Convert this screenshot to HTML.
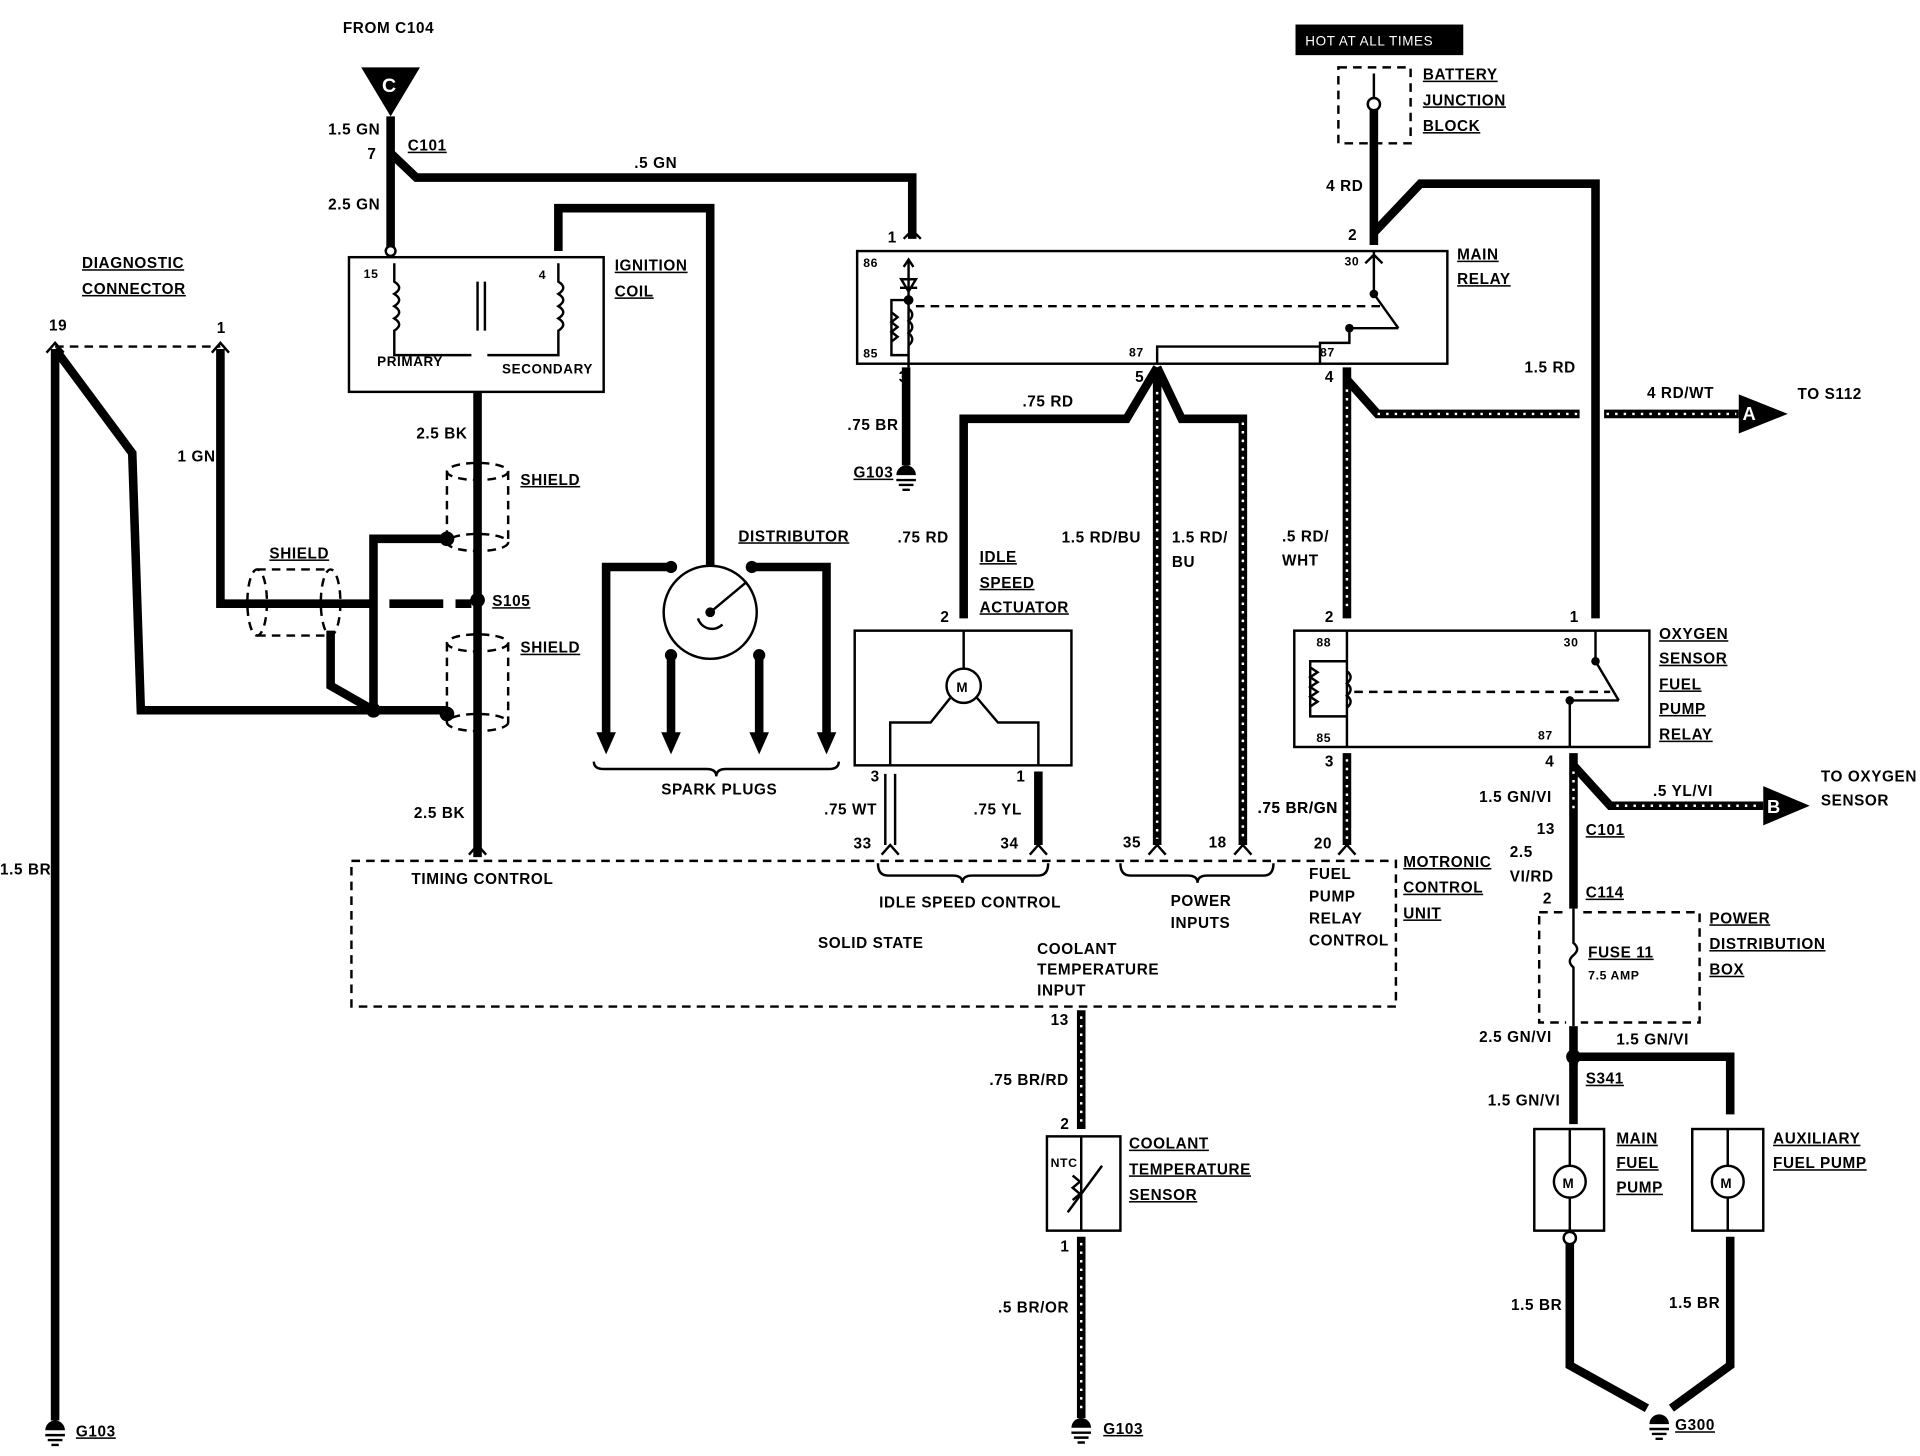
<!DOCTYPE html>
<html><head><meta charset="utf-8"><style>
html,body{margin:0;padding:0;background:#fff;}
svg{display:block;}
text{font-family:"Liberation Sans",sans-serif;font-weight:bold;font-size:12.5px;fill:#000;letter-spacing:0.5px;}
.k{stroke:#000;stroke-width:7;fill:none;stroke-linejoin:miter;}
.t{stroke:#000;stroke-width:2;fill:none;}
.d{stroke:#000;stroke-width:2;fill:none;stroke-dasharray:7,5;}
.h{stroke:#fff;stroke-width:2;fill:none;stroke-dasharray:2,5;}
.u{text-decoration:underline;}
</style></head><body>
<svg width="1920" height="1456" viewBox="0 0 1568 1189" xmlns="http://www.w3.org/2000/svg">
<rect width="1568" height="1189" fill="#fff"/>

<!-- top left feed -->
<text x="280" y="27">FROM C104</text>
<polygon points="295,55 343,55 319,95" fill="#000"/>
<text x="312" y="75" style="fill:#fff;font-size:16px">C</text>
<path class="k" d="M319,95 V205"/>
<path class="k" d="M319,125 L340,145 H745 V195"/>
<text x="268" y="110">1.5 GN</text><text x="300" y="130">7</text>
<text x="333" y="123" class="u">C101</text><text x="268" y="171">2.5 GN</text>
<text x="518" y="137">.5 GN</text>

<!-- ignition coil -->
<rect x="285" y="210" width="208" height="110" class="t"/>
<circle cx="319" cy="205" r="4" fill="#fff" stroke="#000" stroke-width="2"/>
<text x="297" y="227" style="font-size:10px">15</text><text x="440" y="228" style="font-size:10px">4</text>
<path class="t" d="M322,215 V230 q8,5 0,10 q8,5 0,10 q8,5 0,10 q8,5 0,10 V290 H385 M456,215 V230 q8,5 0,10 q8,5 0,10 q8,5 0,10 q8,5 0,10 V290 H398 M390,230 V270 M396,230 V270"/>
<text x="308" y="299" style="font-size:11px">PRIMARY</text><text x="410" y="305" style="font-size:11px">SECONDARY</text>
<text x="502" y="221" class="u">IGNITION</text><text x="502" y="242" class="u">COIL</text>
<path class="k" d="M456,205 V170 H580 V462"/>
<path class="k" d="M390,320 V700"/>
<text x="340" y="358">2.5 BK</text><text x="338" y="668">2.5 BK</text>
<!-- shields -->
<ellipse cx="390" cy="385" rx="25" ry="7" class="d"/><ellipse cx="390" cy="443" rx="25" ry="7" class="d"/>
<path class="d" d="M365,385 V443 M415,385 V443"/>
<ellipse cx="390" cy="525" rx="25" ry="7" class="d"/><ellipse cx="390" cy="590" rx="25" ry="7" class="d"/>
<path class="d" d="M365,525 V590 M415,525 V590"/>
<text x="425" y="396" class="u">SHIELD</text><text x="425" y="533" class="u">SHIELD</text>
<circle cx="390" cy="490" r="6" fill="#000"/><text x="402" y="495" class="u">S105</text>
<path class="k" d="M180,285 V493 H285"/>
<path class="k" d="M285,493 H303 M318,493 H362 M372,493 H385"/>
<ellipse cx="210" cy="492" rx="8" ry="27" class="d"/><ellipse cx="270" cy="492" rx="8" ry="27" class="d"/>
<path class="d" d="M210,465 H270 M210,519 H270"/>
<text x="220" y="456" class="u">SHIELD</text>
<path class="k" d="M270,515 V560 L305,580 H365 M305,580 V440 H365"/>
<circle cx="305" cy="580" r="6" fill="#000"/><circle cx="365" cy="440" r="6" fill="#000"/><circle cx="365" cy="583" r="6" fill="#000"/>
<!-- diagnostic connector -->
<text x="67" y="219" class="u">DIAGNOSTIC</text><text x="67" y="240" class="u">CONNECTOR</text>
<text x="40" y="270">19</text><text x="177" y="272">1</text>
<path class="d" d="M45,283 H180"/>
<path class="t" d="M38,288 L45,280 L52,288 M173,288 L180,280 L187,288"/>
<path class="k" d="M45,285 V1160 M45,285 L108,370 L115,580 H305"/>
<text x="145" y="377">1 GN</text><text x="0" y="714">1.5 BR</text>
<path d="M37,1168 a8,8 0 0 1 16,0 z" fill="#000"/><path class="t" d="M37,1172 H53 M39,1176 H51 M42,1180 H48"/>
<text x="62" y="1173" class="u">G103</text>

<!-- distributor -->
<circle cx="580" cy="500" r="38" class="t" stroke-width="2.5"/>
<path class="t" d="M580,500 L610,475 M570,505 a12,12 0 0 0 20,5"/>
<circle cx="580" cy="500" r="4" fill="#000"/>
<path class="k" d="M548,463 H495 V600 M548,535 V600 M620,535 V600 M614,463 H675 V600"/>
<circle cx="548" cy="463" r="5" fill="#000"/><circle cx="614" cy="463" r="5" fill="#000"/>
<circle cx="548" cy="535" r="5" fill="#000"/><circle cx="620" cy="535" r="5" fill="#000"/>
<path d="M487,598 H503 L495,616 Z M540,598 H556 L548,616 Z M612,598 H628 L620,616 Z M667,598 H683 L675,616 Z" fill="#000"/>
<text x="603" y="442" class="u">DISTRIBUTOR</text>
<path class="t" d="M485,622 q0,6 8,6 H577 q8,0 8,6 q0,-6 8,-6 H677 q8,0 8,-6"/>
<text x="540" y="649">SPARK PLUGS</text>

<!-- main relay -->
<rect x="700" y="205" width="482" height="92" class="t"/>
<text x="725" y="198">1</text>
<path class="t" d="M738,195 L745,188 L752,195 M738,218 L742,212 L746,218"/>
<text x="705" y="218" style="font-size:10px">86</text><text x="705" y="292" style="font-size:10px">85</text>
<path class="t" d="M742,212 V300 M735,235 H749 M736,228 L742,238 L748,228 Z M742,245 H728 V290 H742"/>
<path class="t" d="M728,255 l5,4 -5,4 5,4 -5,4 5,4 -5,4 M742,252 q6,5 0,10 q6,5 0,10 q6,5 0,10"/>
<circle cx="742" cy="245" r="4" fill="#000"/>
<path class="d" d="M748,250 H1130"/>
<text x="1098" y="217" style="font-size:10px">30</text>
<path class="t" d="M1122,205 V240 L1142,268 M1102,268 V280 H1078 V297 M1102,268 H1142 M1115,215 L1122,208 L1129,215"/>
<circle cx="1122" cy="240" r="3.5" fill="#000"/><circle cx="1102" cy="268" r="3.5" fill="#000"/>
<path class="t" d="M945,297 V283 H1078"/>
<text x="922" y="291" style="font-size:10px">87</text><text x="1078" y="291" style="font-size:10px">87</text>
<text x="1190" y="212" class="u">MAIN</text><text x="1190" y="232" class="u">RELAY</text>
<text x="734" y="312">3</text>
<path class="k" d="M740,300 V380"/>
<path d="M732,388 a8,8 0 0 1 16,0 z" fill="#000"/><path class="t" d="M732,392 H748 M734,396 H746 M737,400 H743"/>
<text x="692" y="351">.75 BR</text><text x="697" y="390" class="u">G103</text>

<!-- battery -->
<rect x="1058" y="20" width="137" height="25" fill="#000"/>
<text x="1066" y="37" style="fill:#fff;font-weight:normal;font-size:11px">HOT AT ALL TIMES</text>
<rect x="1093" y="55" width="59" height="62" class="d"/>
<circle cx="1122" cy="85" r="5" fill="#fff" stroke="#000" stroke-width="2"/>
<path class="t" d="M1122,60 V80"/>
<path class="k" d="M1122,90 V200 M1122,190 L1160,150 H1303 V505"/>
<text x="1083" y="156">4 RD</text><text x="1101" y="196">2</text>
<text x="1162" y="65" class="u">BATTERY</text><text x="1162" y="86" class="u">JUNCTION</text><text x="1162" y="107" class="u">BLOCK</text>
<text x="1245" y="304">1.5 RD</text>

<!-- pin 5 power -->
<text x="927" y="312">5</text>
<path class="k" d="M945,300 L920,342 H787 V505"/>
<path class="k" d="M945,300 V690 M945,300 L965,342 H1015 V690"/>
<path class="h" d="M945,320 V685 M1015,345 V685"/>
<text x="835" y="332">.75 RD</text><text x="733" y="443">.75 RD</text>
<text x="867" y="443">1.5 RD/BU</text><text x="957" y="443">1.5 RD/</text><text x="957" y="463">BU</text>
<!-- pin 4 -->
<text x="1082" y="312">4</text>
<path class="k" d="M1100,300 V505 M1100,310 L1125,338 H1290 M1310,338 H1420"/>
<path class="h" d="M1100,318 V500 M1125,338 H1288 M1312,338 H1418"/>
<polygon points="1420,322 1460,338 1420,354" fill="#000"/>
<text x="1423" y="343" style="fill:#fff;font-size:15px">A</text>
<text x="1345" y="325">4 RD/WT</text><text x="1468" y="326">TO S112</text>
<text x="1047" y="442">.5 RD/</text><text x="1047" y="462">WHT</text>

<!-- idle speed actuator -->
<rect x="698" y="515" width="177" height="110" class="t"/>
<text x="768" y="508">2</text>
<text x="800" y="459" class="u">IDLE</text><text x="800" y="480" class="u">SPEED</text><text x="800" y="500" class="u">ACTUATOR</text>
<circle cx="787" cy="560" r="14" class="t"/><text x="781" y="565" style="font-size:11px">M</text>
<path class="t" d="M787,515 V546 M776,570 L760,590 H727 V625 M798,570 L815,590 H848 V625"/>
<text x="711" y="638">3</text><text x="830" y="638">1</text>
<path class="t" d="M723,632 V690 M731,632 V690"/>
<path class="k" d="M848,630 V690"/>
<text x="673" y="665">.75 WT</text><text x="795" y="665">.75 YL</text>

<!-- oxygen relay -->
<rect x="1057" y="515" width="290" height="95" class="t"/>
<text x="1082" y="508">2</text><text x="1282" y="508">1</text>
<text x="1075" y="528" style="font-size:10px">88</text><text x="1075" y="606" style="font-size:10px">85</text>
<text x="1277" y="528" style="font-size:10px">30</text><text x="1256" y="604" style="font-size:10px">87</text>
<path class="t" d="M1100,515 V610 M1100,540 H1070 V585 H1100 M1070,545 l6,4 -6,4 6,4 -6,4 6,4 -6,4 6,4 -6,4 M1100,548 q6,5 0,10 q6,5 0,10 q6,5 0,10"/>
<path class="d" d="M1106,565 H1315"/>
<path class="t" d="M1303,515 V540 L1322,572 M1282,572 V610 M1282,572 H1322"/>
<circle cx="1303" cy="540" r="3.5" fill="#000"/><circle cx="1282" cy="572" r="3.5" fill="#000"/>
<text x="1355" y="522" class="u">OXYGEN</text><text x="1355" y="542" class="u">SENSOR</text><text x="1355" y="563" class="u">FUEL</text><text x="1355" y="583" class="u">PUMP</text><text x="1355" y="604" class="u">RELAY</text>
<text x="1082" y="626">3</text>
<path class="k" d="M1100,615 V690"/><path class="h" d="M1100,620 V686"/>
<text x="1027" y="664">.75 BR/GN</text>
<text x="1262" y="626">4</text>
<path class="k" d="M1285,615 V870 M1285,625 L1315,658 H1440"/>
<path class="h" d="M1285,630 V665 M1320,658 H1436"/>
<polygon points="1440,642 1478,658 1440,674" fill="#000"/>
<text x="1443" y="664" style="fill:#fff;font-size:15px">B</text>
<text x="1350" y="650">.5 YL/VI</text><text x="1487" y="638">TO OXYGEN</text><text x="1487" y="658">SENSOR</text>
<text x="1208" y="655">1.5 GN/VI</text>
<text x="1255" y="681">13</text><text x="1295" y="682" class="u">C101</text>
<text x="1233" y="700">2.5</text><text x="1233" y="720">VI/RD</text>
<text x="1260" y="738">2</text><text x="1295" y="733" class="u">C114</text>
<rect x="1257" y="745" width="131" height="90" class="d"/>
<rect x="1279" y="742" width="12" height="96" fill="#fff"/>
<path class="t" d="M1285,742 V770 q6,5 0,10 q-6,5 0,10 V838"/>
<text x="1297" y="782" class="u">FUSE 11</text><text x="1297" y="800" style="font-size:10px">7.5 AMP</text>
<text x="1396" y="754" class="u">POWER</text><text x="1396" y="775" class="u">DISTRIBUTION</text><text x="1396" y="796" class="u">BOX</text>
<text x="1208" y="851">2.5 GN/VI</text>
<circle cx="1285" cy="863" r="6" fill="#000"/>
<path class="k" d="M1285,863 H1413 V910 M1285,863 V918"/>
<text x="1320" y="853">1.5 GN/VI</text><text x="1295" y="885" class="u">S341</text>
<text x="1215" y="903">1.5 GN/VI</text>
<rect x="1253" y="922" width="57" height="83" class="t"/>
<rect x="1382" y="922" width="58" height="83" class="t"/>
<circle cx="1282" cy="965" r="13" class="t"/><text x="1276" y="970" style="font-size:11px">M</text>
<circle cx="1411" cy="965" r="13" class="t"/><text x="1405" y="970" style="font-size:11px">M</text>
<path class="t" d="M1282,922 V952 M1282,978 V1005 M1411,922 V952 M1411,978 V1005"/>
<text x="1320" y="934" class="u">MAIN</text><text x="1320" y="954" class="u">FUEL</text><text x="1320" y="974" class="u">PUMP</text>
<text x="1448" y="934" class="u">AUXILIARY</text><text x="1448" y="954" class="u">FUEL PUMP</text>
<circle cx="1282" cy="1011" r="5" fill="#fff" stroke="#000" stroke-width="2"/>
<path class="k" d="M1282,1016 V1115 L1345,1150 M1413,1010 V1115 L1365,1150"/>
<text x="1234" y="1070">1.5 BR</text><text x="1363" y="1068">1.5 BR</text>
<path d="M1347,1163 a8,8 0 0 1 16,0 z" fill="#000"/><path class="t" d="M1347,1167 H1363 M1349,1171 H1361 M1352,1175 H1358"/>
<text x="1368" y="1168" class="u">G300</text>

<!-- Motronic -->
<rect x="287" y="703" width="853" height="119" class="d"/>
<text x="697" y="693">33</text><text x="817" y="693">34</text><text x="917" y="692">35</text><text x="987" y="692">18</text><text x="1073" y="693">20</text>
<path class="t" d="M720,698 L727,690 L734,698 M841,698 L848,690 L855,698 M938,698 L945,690 L952,698 M1008,698 L1015,690 L1022,698 M1093,698 L1100,690 L1107,698 M383,698 L390,690 L397,698"/>
<text x="1027" y="664">.75 BR/GN</text>
<text x="336" y="722">TIMING CONTROL</text>
<path class="t" d="M717,705 q0,10 8,10 H778 q8,0 8,6 q0,-6 8,-6 H848 q8,0 8,-10"/>
<text x="718" y="741">IDLE SPEED CONTROL</text>
<path class="t" d="M915,705 q0,10 8,10 H970 q8,0 8,6 q0,-6 8,-6 H1032 q8,0 8,-10"/>
<text x="956" y="740">POWER</text><text x="956" y="758">INPUTS</text>
<text x="1069" y="718">FUEL</text><text x="1069" y="736">PUMP</text><text x="1069" y="754">RELAY</text><text x="1069" y="772">CONTROL</text>
<text x="1146" y="708" class="u">MOTRONIC</text><text x="1146" y="729" class="u">CONTROL</text><text x="1146" y="750" class="u">UNIT</text>
<text x="668" y="774">SOLID STATE</text>
<text x="847" y="779">COOLANT</text><text x="847" y="796">TEMPERATURE</text><text x="847" y="813">INPUT</text>

<!-- coolant sensor -->
<text x="858" y="837">13</text>
<path class="k" d="M883,825 V922"/><path class="h" d="M883,830 V918"/>
<text x="808" y="886">.75 BR/RD</text><text x="866" y="922">2</text>
<rect x="855" y="928" width="60" height="77" class="t"/>
<text x="858" y="953" style="font-size:10px">NTC</text>
<path class="t" d="M883,928 V1005 M872,990 L900,952 M876,960 l6,5 -6,5 6,5 -6,5"/>
<text x="922" y="938" class="u">COOLANT</text><text x="922" y="959" class="u">TEMPERATURE</text><text x="922" y="980" class="u">SENSOR</text>
<text x="866" y="1022">1</text>
<path class="k" d="M883,1010 V1158"/><path class="h" d="M883,1015 V1155"/>
<text x="815" y="1072">.5 BR/OR</text>
<path d="M875,1166 a8,8 0 0 1 16,0 z" fill="#000"/><path class="t" d="M875,1170 H891 M877,1174 H889 M880,1178 H886"/>
<text x="901" y="1171" class="u">G103</text>
</svg>
</body></html>
